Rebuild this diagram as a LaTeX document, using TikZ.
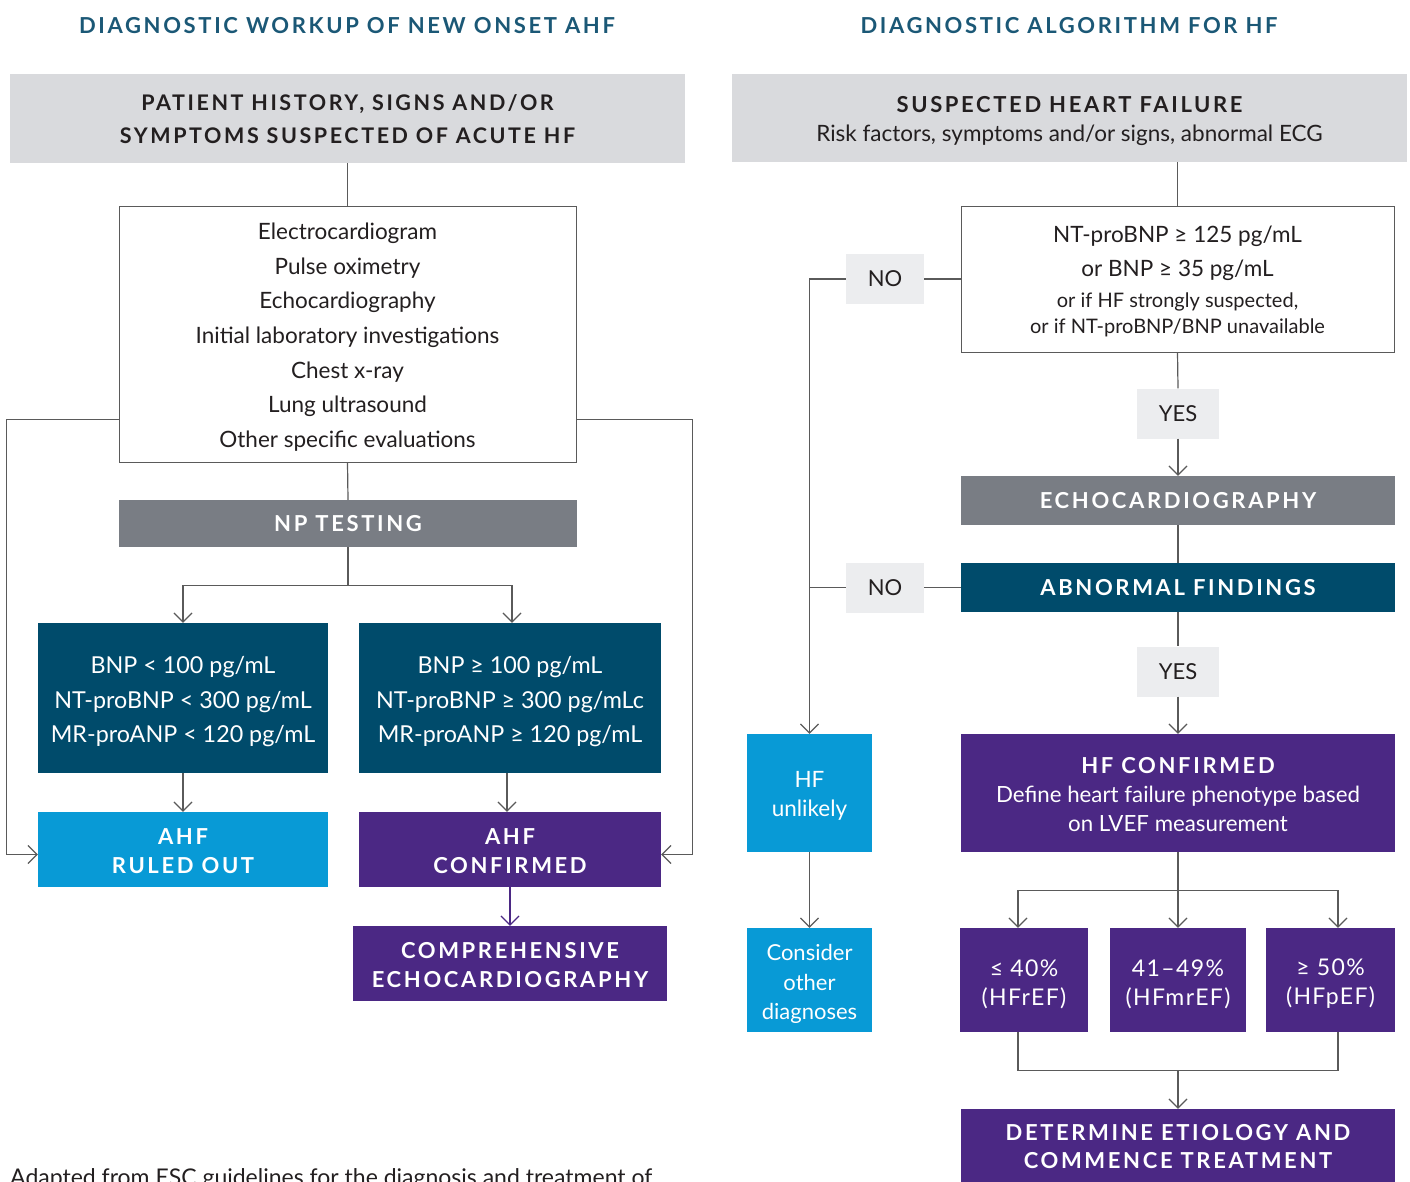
\documentclass[tikz,border=0pt]{standalone}
\usepackage{fontspec}
\setmainfont{Lato}
\newfontfamily\capsf[LetterSpace=12]{Lato}
\newfontfamily\spf[LetterSpace=6]{Lato}
\usetikzlibrary{arrows.meta,calc}
\newcommand\upst[1]{\rule{0pt}{#1}}
\definecolor{ttl}{HTML}{1B5876}
\definecolor{hdr}{HTML}{D9DADD}
\definecolor{npg}{HTML}{797D84}
\definecolor{tealbox}{HTML}{004B6B}
\definecolor{sky}{HTML}{089AD6}
\definecolor{purp}{HTML}{4B2884}
\definecolor{lab}{HTML}{ECEDEF}
\definecolor{lncol}{HTML}{5A5A5A}
\definecolor{txt}{HTML}{231F20}
\tikzset{
  box/.style={rectangle, inner sep=0pt, align=center},
  hdrbox/.style={box, fill=hdr, text=txt},
  wbox/.style={box, draw=lncol, line width=1pt, fill=white, text=txt},
  npbox/.style={box, fill=npg, text=white},
  tbox/.style={box, fill=tealbox, text=white},
  sbox/.style={box, fill=sky, text=white},
  pbox/.style={box, fill=purp, text=white},
  lbox/.style={box, fill=lab, text=txt, font=\fontsize{22}{26}\selectfont},
  capstyle/.style={font=\capsf\bfseries\fontsize{22}{29}\selectfont},
  conn/.style={draw=lncol, line width=1.2pt},
  arr/.style={conn, -{Straight Barb[length=9pt,width=18pt,line width=1.2pt]}},
  parr/.style={draw=purp, line width=1.2pt, -{Straight Barb[length=9pt,width=18pt,line width=1.2pt]}},
}
\begin{document}
\begin{tikzpicture}[x=1pt,y=-1pt]
\useasboundingbox (0,0) rectangle (1410,1181);
\begin{scope}
\clip (0,0) rectangle (1410,1181);
% titles
\node[box, text=ttl, capstyle] (t1) at (347,25.5) {DIAGNOSTIC WORKUP OF NEW ONSET AHF};
\node[box, text=ttl, capstyle] (t2) at (1069,25.5) {DIAGNOSTIC ALGORITHM FOR HF};

% ---------- left ----------
\node[hdrbox, minimum width=675pt, minimum height=89pt, font=\capsf\bfseries\fontsize{21.5}{33}\selectfont] (h1) at (347.5,118.5)
  {\upst{17.5pt}PATIENT HISTORY, SIGNS AND/OR\\SYMPTOMS SUSPECTED OF ACUTE HF};
\node[wbox, minimum width=457pt, minimum height=256pt, font=\fontsize{22.5}{34.7}\selectfont] (wb) at (347.5,334)
  {\upst{23pt}Electrocardiogram\\Pulse oximetry\\Echocardiography\\Initial laboratory investigations\\Chest x-ray\\Lung ultrasound\\Other specific evaluations};
\node[npbox, minimum width=458pt, minimum height=47pt, capstyle] (np) at (348,523.5) {NP TESTING};
\node[tbox, minimum width=290pt, minimum height=150pt, font=\fontsize{23.3}{34.5}\selectfont] (b1) at (183,698)
  {\upst{25pt}BNP < 100 pg/mL\\NT-proBNP < 300 pg/mL\\MR-proANP < 120 pg/mL};
\node[tbox, minimum width=302pt, minimum height=150pt, font=\fontsize{23.3}{34.5}\selectfont] (b2) at (510,698)
  {\upst{25pt}BNP ≥ 100 pg/mL\\NT-proBNP ≥ 300 pg/mLc\\MR-proANP ≥ 120 pg/mL};
\node[sbox, minimum width=290pt, minimum height=75pt, capstyle] (ro) at (183,849.5) {\upst{20pt}AHF\\RULED OUT};
\node[pbox, minimum width=302pt, minimum height=75pt, capstyle] (cf) at (510,849.5) {\upst{20pt}AHF\\CONFIRMED};
\node[pbox, minimum width=314pt, minimum height=75pt, capstyle] (ce) at (510,963.5) {\upst{20pt}COMPREHENSIVE\\ECHOCARDIOGRAPHY};
\node[anchor=base west, inner sep=0pt, text=txt, font=\fontsize{23}{25}\selectfont] (foot) at (10,1185)
  {Adapted from ESC guidelines for the diagnosis and treatment of};

\draw[conn] (h1.south) -- (wb.north);
\draw[conn] (wb.south) -- (np.north);
\draw[arr] (np.south) -- ++(0,38) -| (b1.north);
\draw[arr] (np.south) ++(0,38) -| ([xshift=2pt]b2.north);
\draw[arr] (b1.south) -- (ro.north);
\draw[arr] ([xshift=-3pt]b2.south) -- ([xshift=-3pt]cf.north);
\draw[parr] (cf.south) -- (ce.north);
\draw[arr] ([yshift=43pt]wb.south west) -- ++(-112,0) |- ([yshift=-5pt]ro.west);
\draw[arr] ([yshift=43pt]wb.south east) -- ++(116,0) |- ([yshift=-5pt]cf.east);

% ---------- right ----------
\node[hdrbox, minimum width=675pt, minimum height=88pt, font=\fontsize{22.5}{29}\selectfont] (h2) at (1069.5,118)
  {{\capsf\bfseries\fontsize{22}{29}\selectfont\upst{22pt}SUSPECTED HEART FAILURE}\\Risk factors, symptoms and/or signs, abnormal ECG};
\node[wbox, minimum width=433pt, minimum height=146pt, font=\fontsize{22.5}{34}\selectfont] (nb) at (1177.5,279)
  {\upst{21pt}NT-proBNP ≥ 125 pg/mL\\or BNP ≥ 35 pg/mL\\[-3pt]{\fontsize{20}{25}\selectfont or if HF strongly suspected,}\\[-8pt]{\fontsize{20}{25}\selectfont or if NT-proBNP/BNP unavailable}};
\node[lbox, minimum width=78pt, minimum height=50pt] (no1) at (885,279) {NO};
\node[lbox, minimum width=82pt, minimum height=50pt] (yes1) at (1178,413.5) {YES};
\node[npbox, minimum width=434pt, minimum height=49pt, capstyle] (ec) at (1178,500.5) {ECHOCARDIOGRAPHY};
\node[tbox, minimum width=434pt, minimum height=49pt, capstyle] (ab) at (1178,587.5) {ABNORMAL FINDINGS};
\node[lbox, minimum width=78pt, minimum height=50pt] (no2) at (885,587.5) {NO};
\node[lbox, minimum width=82pt, minimum height=50pt] (yes2) at (1178,671.5) {YES};
\node[pbox, minimum width=434pt, minimum height=118pt, font=\fontsize{22.3}{29}\selectfont] (hc) at (1178,793)
  {{\capsf\bfseries\fontsize{22}{29}\selectfont\upst{20pt}HF CONFIRMED}\\Define heart failure phenotype based\\on LVEF measurement};
\node[sbox, minimum width=125pt, minimum height=118pt, font=\fontsize{22.5}{29}\selectfont] (hu) at (809.5,793) {\upst{22pt}HF\\unlikely};
\node[sbox, minimum width=125pt, minimum height=104pt, font=\fontsize{22}{29.5}\selectfont] (cd) at (809.5,980) {\upst{24.5pt}Consider\\other\\diagnoses};
\node[pbox, minimum width=128pt, minimum height=104pt, font=\spf\fontsize{23}{29}\selectfont] (p1) at (1024,980) {\upst{24.5pt}≤ 40\%\\(HFrEF)};
\node[pbox, minimum width=136pt, minimum height=104pt, font=\spf\fontsize{23}{29}\selectfont] (p2) at (1178,980) {\upst{24.5pt}41–49\%\\(HFmrEF)};
\node[pbox, minimum width=129pt, minimum height=104pt, font=\spf\fontsize{23}{29}\selectfont] (p3) at (1330.5,980) {\upst{24.5pt}≥ 50\%\\(HFpEF)};
\node[pbox, minimum width=434pt, minimum height=76pt, font=\capsf\bfseries\fontsize{22}{28}\selectfont] (de) at (1178,1147)
  {DETERMINE ETIOLOGY AND\\COMMENCE TREATMENT};

\draw[conn] (nb.north |- h2.south) -- (nb.north);
\draw[conn] (nb.west) -- (no1.east);
\draw[arr] (no1.west) -| (hu.north);
\draw[conn] (nb.south) -- (yes1.north);
\draw[arr] (yes1.south) -- (ec.north);
\draw[conn] (ec.south) -- (ab.north);
\draw[conn] (ab.west) -- (no2.east);
\draw[conn] (no2.west) -- (no2.west -| hu.north);
\draw[conn] (ab.south) -- (yes2.north);
\draw[arr] (yes2.south) -- (hc.north);
\draw[arr] (hu.south) -- (cd.north);
\draw[arr] (hc.south) -- ++(0,38) -| ([xshift=-6pt]p1.north);
\draw[arr] (hc.south) ++(0,38) -| ([xshift=7.5pt]p3.north);
\draw[arr] (hc.south) -- (p2.north);
\draw[conn] ([xshift=-6pt]p1.south) -- ++(0,38) -| ([xshift=7.5pt]p3.south);
\draw[arr] (p2.south) ++(0,38) -- (de.north);
\end{scope}
\end{tikzpicture}
\end{document}
